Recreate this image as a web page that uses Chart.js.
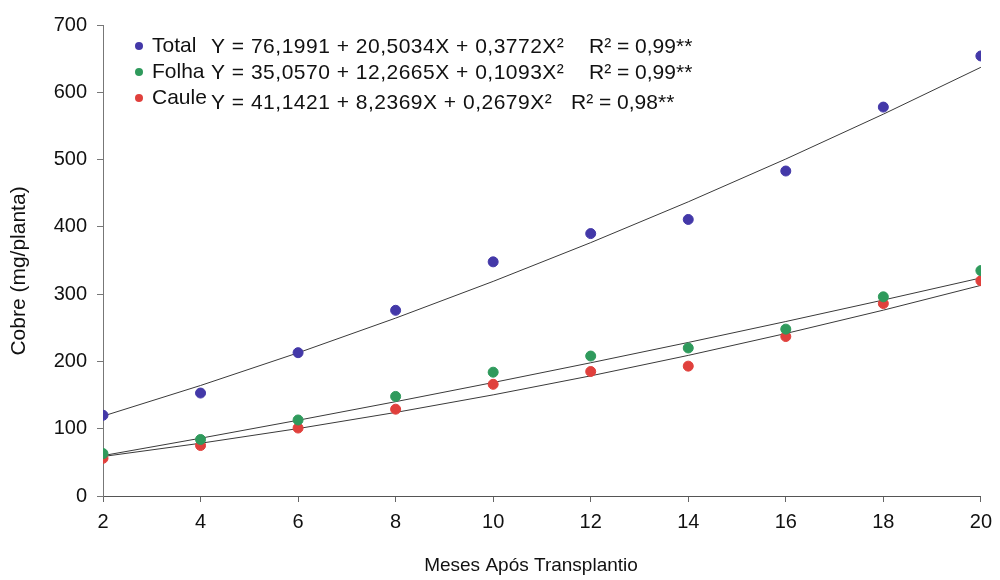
<!DOCTYPE html>
<html>
<head>
<meta charset="utf-8">
<script src="https://cdn.jsdelivr.net/npm/chart.js@4.4.1/dist/chart.umd.min.js"></script>
<style>
  html, body { margin: 0; padding: 0; background: #fff; }
  #wrap { width: 1000px; height: 580px; }
</style>
</head>
<body>
<div id="wrap"><canvas id="grafico" width="1000" height="580"></canvas></div>
<script>
// meses apos transplantio e teores de cobre (mg/planta)
const meses = [2, 4, 6, 8, 10, 12, 14, 16, 18, 20];
const total = [120, 153, 213, 276, 348, 390, 411, 483, 578, 654];
const folha = [63, 84, 113, 148, 184, 208, 220, 248, 296, 335];
const caule = [56, 75, 101, 129, 166, 185, 193, 237, 286, 320];

// coeficientes das regressoes (a + bX + cX2)
const coefTotal = [76.1991, 20.5034, 0.3772];
const coefFolha = [35.0570, 12.2665, 0.1093];
const coefCaule = [41.1421, 8.2369, 0.2679];

const nomes = ["Total", "Folha", "Caule"];
const equacoes = [
  "Y = 76,1991 + 20,5034X + 0,3772X\u00B2",
  "Y = 35,0570 + 12,2665X + 0,1093X\u00B2",
  "Y = 41,1421 + 8,2369X + 0,2679X\u00B2"
];
const r2 = ["R\u00B2 = 0,99**", "R\u00B2 = 0,99**", "R\u00B2 = 0,98**"];
const yTicks = [0, 100, 200, 300, 400, 500, 600, 700];
const tituloX = "Meses Após Transplantio";
const tituloY = "Cobre (mg/planta)";

const corTotal = "#4338a8";
const corFolha = "#2f9a5c";
const corCaule = "#e0403c";
const fonte = "'Liberation Sans', Arial, sans-serif";

function pontos(vals) {
  return meses.map((m, i) => ({ x: m, y: vals[i] }));
}

function curva(c) {
  return meses.map(m => ({ x: m, y: c[0] + c[1] * m + c[2] * m * m }));
}

function linha(c) {
  return {
    type: "line",
    data: curva(c),
    borderColor: "#3a3a3a",
    borderWidth: 1,
    pointRadius: 0,
    tension: 0,
    fill: false,
    order: 1
  };
}

function serie(vals, cor) {
  return {
    type: "scatter",
    data: pontos(vals),
    backgroundColor: cor,
    borderColor: cor,
    pointRadius: 5,
    pointBorderWidth: 1,
    order: 0
  };
}

// legenda com as equacoes e titulos dos eixos
const legendaEquacoes = {
  id: "legendaEquacoes",
  afterDraw(chart) {
    const ctx = chart.ctx;
    const cores = [corTotal, corFolha, corCaule];
    const linhas = [46, 72, 98];
    ctx.save();
    ctx.font = "21px " + fonte;
    ctx.textBaseline = "middle";
    ctx.textAlign = "left";
    for (let i = 0; i < 3; i++) {
      const y = linhas[i];
      ctx.beginPath();
      ctx.arc(139, y, 4, 0, Math.PI * 2);
      ctx.fillStyle = cores[i];
      ctx.fill();
      ctx.fillStyle = "#111";
      ctx.letterSpacing = "0px";
      ctx.fillText(nomes[i], 152, y);
      const ye = i === 2 ? y + 5 : y + 1;
      ctx.letterSpacing = "0.5px";
      ctx.fillText(equacoes[i], 211, ye);
      ctx.letterSpacing = "0px";
      ctx.fillText(r2[i], i === 2 ? 571 : 589, ye);
    }

    ctx.textAlign = "center";
    ctx.font = "19px " + fonte;
    ctx.fillText(tituloX, 531, 566);
    ctx.translate(19, 271);
    ctx.rotate(-Math.PI / 2);
    ctx.font = "21px " + fonte;
    ctx.fillText(tituloY, 0, 0);
    ctx.restore();
  }
};

new Chart(document.getElementById("grafico"), {
  data: {
    datasets: [
      linha(coefTotal),
      linha(coefFolha),
      linha(coefCaule),
      serie(total, corTotal),
      serie(folha, corFolha),
      serie(caule, corCaule)
    ]
  },
  options: {
    responsive: false,
    animation: false,
    layout: { padding: { top: 25, right: 15, bottom: 2, left: 0 } },
    plugins: {
      legend: { display: false },
      tooltip: { enabled: false }
    },
    scales: {
      x: {
        type: "linear",
        min: 2,
        max: 20,
        afterFit(scale) { scale.height = 82; },
        afterBuildTicks(scale) { scale.ticks = meses.map(v => ({ value: v })); },
        grid: { drawOnChartArea: false, drawTicks: true, tickLength: 6, color: "#666" },
        border: { color: "#555", width: 1 },
        ticks: { color: "#111", font: { family: fonte, size: 20 }, padding: 8, maxRotation: 0 }
      },
      y: {
        min: 0,
        max: 700,
        afterFit(scale) { scale.width = 103; },
        afterBuildTicks(scale) { scale.ticks = yTicks.map(v => ({ value: v })); },
        grid: { drawOnChartArea: false, drawTicks: true, tickLength: 6, color: "#777" },
        border: { color: "#777", width: 1 },
        ticks: { color: "#111", font: { family: fonte, size: 20 }, padding: 10 }
      }
    }
  },
  plugins: [legendaEquacoes]
});
</script>
</body>
</html>
